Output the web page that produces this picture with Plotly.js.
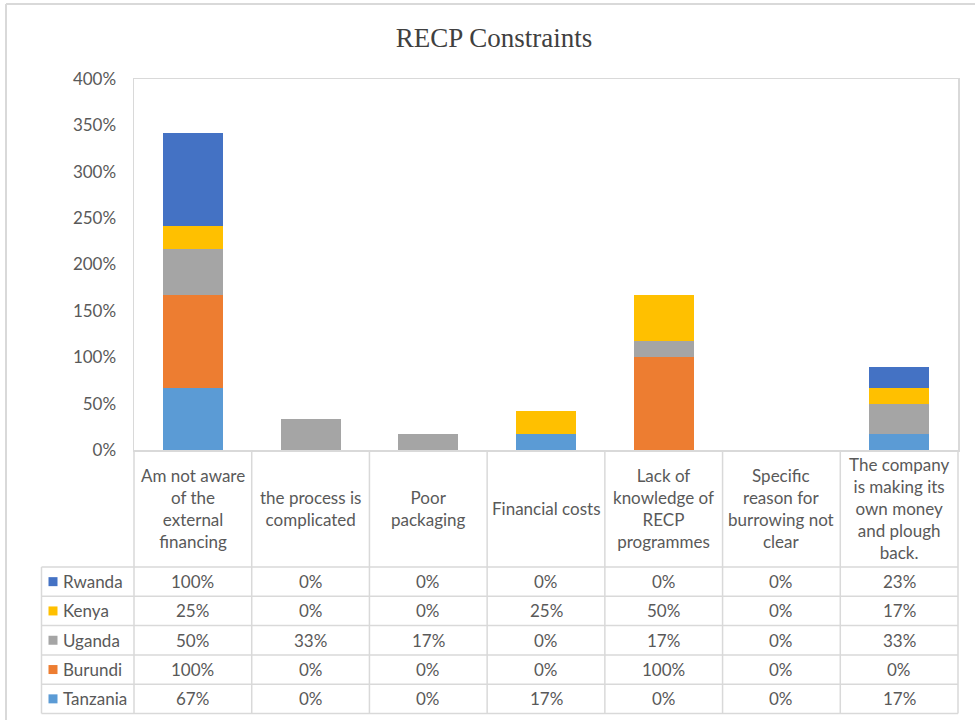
<!DOCTYPE html>
<html>
<head>
<meta charset="utf-8">
<script src="https://cdn.plot.ly/plotly-3.0.1.min.js"></script>
<style>
  html, body { margin: 0; padding: 0; background: #ffffff; }
  #chart { width: 975px; height: 720px; }
</style>
</head>
<body>
<div id="chart"></div>
<script>
// Constraint categories (column headers of the data table)
const categories = [
  "Am not aware<br>of the<br>external<br>financing",
  "the process is<br>complicated",
  "Poor<br>packaging",
  "Financial costs",
  "Lack of<br>knowledge of<br>RECP<br>programmes",
  "Specific<br>reason for<br>burrowing not<br>clear",
  "The company<br>is making its<br>own money<br>and plough<br>back."
];

// Shares per country (percent)
const rwanda   = [100, 0, 0, 0, 0, 0, 23];
const kenya    = [25, 0, 0, 25, 50, 0, 17];
const uganda   = [50, 33, 17, 0, 17, 0, 33];
const burundi  = [100, 0, 0, 0, 100, 0, 0];
const tanzania = [67, 0, 0, 17, 0, 0, 17];

const seriesNames  = ["Rwanda", "Kenya", "Uganda", "Burundi", "Tanzania"];
const seriesValues = [rwanda, kenya, uganda, burundi, tanzania];
const seriesColors = ["#4472C4", "#FFC000", "#A5A5A5", "#ED7D31", "#5B9BD5"];

const yTicks = [0, 50, 100, 150, 200, 250, 300, 350, 400];

// ---- frame geometry (pixels) ----
const W = 975, H = 720;
const plotL = 134, plotR = 958, plotT = 79, plotB = 450;
const legendL = 41.5;
const headerB = 567;
const rowH = 29.3;
const tableB = headerB + rowH * seriesNames.length;
const gridColor = "#d9d9d9";
const textColor = "#595959";
const font = "Lato, 'Open Sans', sans-serif";
const fontSize = 17;

const px = x => (x - plotL) / (plotR - plotL);
const py = y => (plotB - y) / (plotB - plotT);

// Stacked bars: bottom segment first
const traces = [];
for (let i = seriesNames.length - 1; i >= 0; i--) {
  traces.push({
    type: "bar",
    name: seriesNames[i],
    x: categories,
    y: seriesValues[i],
    marker: { color: seriesColors[i], line: { width: 0 } },
    hoverinfo: "skip"
  });
}

const shapes = [];
const annotations = [];

// Table vertical rules
const nCols = categories.length;
for (let k = 0; k <= nCols; k++) {
  shapes.push({
    type: "line", xref: "paper", yref: "paper",
    x0: k / nCols, x1: k / nCols, y0: 0, y1: py(tableB),
    line: { color: gridColor, width: 1.5 }
  });
}
// Legend column left rule
shapes.push({
  type: "line", xref: "paper", yref: "paper",
  x0: px(legendL), x1: px(legendL), y0: py(headerB), y1: py(tableB),
  line: { color: gridColor, width: 1.5 }
});
// Table horizontal rules
for (let r = 0; r <= seriesNames.length; r++) {
  const yy = headerB + r * rowH;
  shapes.push({
    type: "line", xref: "paper", yref: "paper",
    x0: px(legendL), x1: 1, y0: py(yy), y1: py(yy),
    line: { color: gridColor, width: 1.5 }
  });
}

// Column headers
categories.forEach(c => {
  annotations.push({
    xref: "x", yref: "paper", x: c, y: py((plotB + headerB) / 2),
    text: c, showarrow: false, xanchor: "center", yanchor: "middle",
    align: "center", font: { family: font, size: fontSize, color: textColor }
  });
});

// Rows: legend key, series name, values
seriesNames.forEach((name, r) => {
  const yc = headerB + rowH * (r + 0.5);
  shapes.push({
    type: "rect", xref: "paper", yref: "paper",
    x0: px(48.5), x1: px(57.5), y0: py(yc - 4.5), y1: py(yc + 4.5),
    fillcolor: seriesColors[r], line: { width: 0 }
  });
  annotations.push({
    xref: "paper", yref: "paper", x: px(61), y: py(yc),
    text: name, showarrow: false, xanchor: "left", yanchor: "middle",
    font: { family: font, size: fontSize, color: textColor }
  });
  seriesValues[r].forEach((v, j) => {
    annotations.push({
      xref: "x", yref: "paper", x: categories[j], y: py(yc),
      text: v + "%", showarrow: false, xanchor: "center", yanchor: "middle",
      font: { family: font, size: fontSize, color: textColor }
    });
  });
});

// Outer frame edges (left and top)
shapes.push({
  type: "line", xref: "paper", yref: "paper",
  x0: px(6), x1: px(6), y0: py(4), y1: py(H + 5),
  line: { color: "#d9d9d9", width: 2 }
});
shapes.push({
  type: "line", xref: "paper", yref: "paper",
  x0: px(6), x1: px(W + 5), y0: py(4), y1: py(4),
  line: { color: "#d9d9d9", width: 2 }
});

const layout = {
  width: W, height: H,
  margin: { l: plotL, r: W - plotR, t: plotT, b: H - plotB },
  paper_bgcolor: "#ffffff", plot_bgcolor: "#ffffff",
  barmode: "stack",
  bargap: 0.49,
  showlegend: false,
  title: {
    text: "RECP Constraints",
    x: 494 / W, xref: "container", xanchor: "center",
    y: 1 - 38 / H, yref: "container", yanchor: "middle",
    font: { family: "'Liberation Serif', 'Times New Roman', serif", size: 27, color: "#404040" }
  },
  xaxis: {
    type: "category",
    showticklabels: false,
    showline: true, linecolor: gridColor, linewidth: 1.5, mirror: true,
    showgrid: false, zeroline: false, ticks: "", fixedrange: true
  },
  yaxis: {
    range: [0, 400],
    tickvals: yTicks,
    ticktext: yTicks.map(t => t + "%"),
    showline: true, linecolor: gridColor, linewidth: 1.5, mirror: true,
    showgrid: false, zeroline: false, ticks: "",
    ticklabelstandoff: 13,
    tickfont: { family: font, size: fontSize, color: textColor },
    fixedrange: true
  },
  shapes: shapes,
  annotations: annotations
};

Plotly.newPlot("chart", traces, layout, { displayModeBar: false, staticPlot: true });
</script>
</body>
</html>
